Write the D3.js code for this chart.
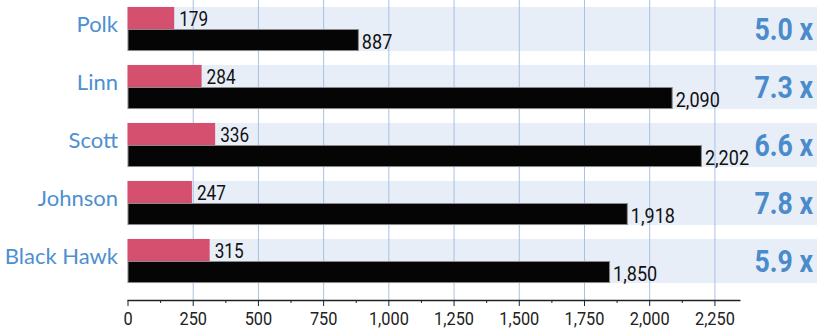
<!DOCTYPE html>
<html><head><meta charset="utf-8">
<script src="https://cdn.jsdelivr.net/npm/d3@7"></script>
<style>
body{margin:0;background:#fff;}
svg{display:block;}
</style></head><body>
<svg id="chart" width="817" height="328"></svg>
<script>
const counties = ["Polk","Linn","Scott","Johnson","Black Hawk"];
const pinkValues = [179,284,336,247,315];
const blackValues = [887,2090,2202,1918,1850];
const ratios = ["5.0 x","7.3 x","6.6 x","7.8 x","5.9 x"];
const tickValues = [0,250,500,750,1000,1250,1500,1750,2000,2250];

const svg = d3.select("#chart");
const x = d3.scaleLinear().domain([0,2350]).range([127.5,740.5]);
const y = d3.scaleBand().domain(counties).range([0,290]).paddingInner(0.24).paddingOuter(0.12);
const axisY = 300;
const SX = 0.86;
const condFont = "Roboto, sans-serif";

// row bands
svg.append("g").selectAll("rect").data(counties).join("rect")
  .attr("x", x(0)).attr("y", d=>y(d)).attr("width", 817-x(0)).attr("height", y.bandwidth())
  .attr("fill","#e8eef7");

// gridlines
svg.append("g").selectAll("line").data(tickValues.filter(v=>v>0)).join("line")
  .attr("x1", d=>x(d)+0.5).attr("x2", d=>x(d)+0.5).attr("y1",0).attr("y2",axisY)
  .attr("stroke","#a9c0e6").attr("stroke-width",1);

const half = y.bandwidth()/2;
// pink bars
svg.append("g").selectAll("rect").data(counties).join("rect")
  .attr("x", x(0)).attr("y", d=>y(d)).attr("width",(d,i)=>x(pinkValues[i])-x(0)).attr("height", half)
  .attr("fill","#d4506e");
// black bars
svg.append("g").selectAll("rect").data(counties).join("rect")
  .attr("x", x(0)+0.5).attr("y", d=>y(d)+half+0.5).attr("width",(d,i)=>x(blackValues[i])-x(0)-1).attr("height", half-1)
  .attr("fill","#050505").attr("stroke","#8a8a8a").attr("stroke-width",1);

const fmt = d3.format(",");
svg.append("g").selectAll("text").data(counties).join("text")
  .attr("transform",(d,i)=>`translate(${x(pinkValues[i])+5},${y(d)+half-3}) scale(${SX},1)`)
  .attr("font-family",condFont).attr("font-size",20).attr("fill","#111").text((d,i)=>fmt(pinkValues[i]));
svg.append("g").selectAll("text").data(counties).join("text")
  .attr("transform",(d,i)=>`translate(${x(blackValues[i])+3},${y(d)+2*half-2}) scale(${SX},1)`)
  .attr("font-family",condFont).attr("font-size",21).attr("fill","#111").text((d,i)=>fmt(blackValues[i]));

// category labels
svg.append("g").selectAll("text").data(counties).join("text")
  .attr("x",118).attr("y", d=>y(d)+half-5).attr("dy","0.35em").attr("text-anchor","end")
  .attr("font-family","Lato, 'Open Sans', sans-serif").attr("font-size",22).attr("fill","#4d8fd1")
  .text(d=>d);

// ratios
svg.append("g").selectAll("text").data(counties).join("text")
  .attr("transform",d=>`translate(813,${y(d)+half}) scale(${SX},1)`).attr("dy","0.36em").attr("text-anchor","end")
  .attr("font-family",condFont).attr("font-size",31).attr("font-weight","bold").attr("fill","#4a8bcc")
  .text((d,i)=>ratios[i]);

// axis
const ax = svg.append("g").attr("transform",`translate(0,${axisY})`);
ax.call(d3.axisBottom(x).tickValues(d3.range(0,2350,125)).tickSize(4).tickFormat(""));
ax.selectAll(".tick line").attr("y2",(d)=>d%250===0?6:3).attr("stroke","#222");
ax.select(".domain").attr("d",`M${x(0)},0.5H${x(2350)}`).attr("stroke","#222").attr("stroke-width",1.5);
const ax2 = svg.append("g").attr("transform",`translate(0,${axisY})`);
ax2.call(d3.axisBottom(x).tickValues(tickValues).tickSize(0).tickPadding(0).tickFormat(fmt));
ax2.select(".domain").remove();
ax2.selectAll("text").attr("y",null).attr("dy",null)
  .attr("transform",`translate(0,25) scale(${SX},1)`)
  .attr("font-family",condFont).attr("font-size",19).attr("fill","#222");
</script>
</body></html>
